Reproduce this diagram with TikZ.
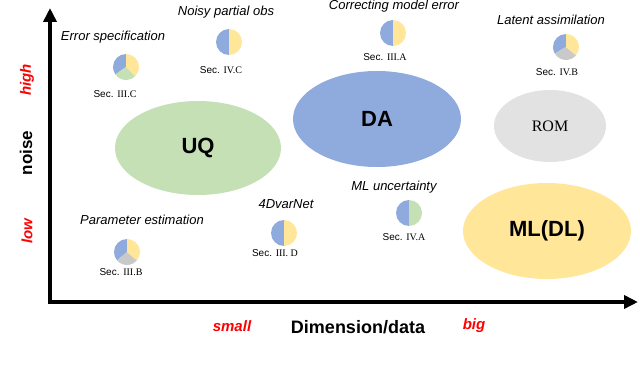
\documentclass[tikz,border=0pt]{standalone}
\usepackage{fontspec}
\setmainfont{Liberation Sans}
\newfontfamily\romfont{Liberation Serif}
\usetikzlibrary{shapes.geometric,arrows.meta}

\definecolor{daBlue}{HTML}{8FAADC}
\definecolor{uqGreen}{HTML}{C5E0B4}
\definecolor{mlYellow}{HTML}{FFE699}
\definecolor{romGray}{HTML}{E2E2E2}
\definecolor{sliceGray}{HTML}{C9C9C9}

\tikzset{
  axis/.style={line width=4pt, -{Triangle[length=14pt,width=13pt]}},
  blob/.style={ellipse, inner sep=0pt, font=\bfseries\fontsize{22}{26}\selectfont},
  topic/.style={font=\itshape\fontsize{13}{15}\selectfont},
  secref/.style={font=\fontsize{10}{12}\selectfont},
  scale label/.style={text=red, font=\bfseries\itshape\fontsize{15}{18}\selectfont}
}

% one slice of a small pie: colour, centre, from angle, to angle
\newcommand{\pieslice}[4]{\fill[#1] (#2) -- ++(#3:13pt) arc[start angle=#3, end angle=#4, radius=13pt] -- cycle;}

\begin{document}
\begin{tikzpicture}[x=1pt,y=1pt]
                \useasboundingbox (0,0) rectangle (640,367);

                % Axes
                \coordinate (origin) at (50,65);
                \coordinate (ytip) at (50,359);
                \coordinate (xtip) at (638,65);
                \draw[axis] (origin) -- (ytip);
                \draw[axis] ([xshift=-2pt]origin) -- (xtip);

                \node[rotate=90, font=\bfseries\fontsize{17}{20}\selectfont] (noise) at (26,214) {noise};
                \node[scale label, rotate=90] (high) at (27,287) {high};
                \node[scale label, rotate=90] (low) at (27,136) {low};
                \node[font=\bfseries\fontsize{18}{21}\selectfont] (dimension) at (358,40) {Dimension/data};
                \node[scale label] (small) at (232,41) {small};
                \node[scale label] (big) at (474,41) {big};

                % Fields
                \node[blob, fill=uqGreen, minimum width=166pt, minimum height=94pt] (uq) at (198,219) {UQ};
                \node[blob, fill=daBlue, minimum width=168pt, minimum height=96pt] (da) at (377,248) {DA};
                \node[blob, fill=romGray, minimum width=112pt, minimum height=72pt, font=\romfont\fontsize{16}{19}\selectfont] (rom) at (550,241) {ROM};
                \node[blob, fill=mlYellow, minimum width=168pt, minimum height=96pt] (ml) at (547,136) {ML(DL)};

                % Topics
                \coordinate (errspec) at (126,300);
                \pieslice{daBlue}{errspec}{90}{215}
                \pieslice{uqGreen}{errspec}{215}{315}
                \pieslice{mlYellow}{errspec}{-45}{90}
                \node[topic] (errspec text) at (113,330) {Error specification};
                \node[secref] (errspec sec) at (115,273) {Sec. \romfont III.C};

                \coordinate (noisy) at (229,325);
                \pieslice{daBlue}{noisy}{90}{270}
                \pieslice{mlYellow}{noisy}{-90}{90}
                \node[topic] (noisy text) at (226,355) {Noisy partial obs};
                \node[secref] (noisy sec) at (221,297) {Sec. \romfont IV.C};

                \coordinate (correct) at (393,334);
                \pieslice{daBlue}{correct}{90}{270}
                \pieslice{mlYellow}{correct}{-90}{90}
                \node[topic] (correct text) at (394,361) {Correcting model error};
                \node[secref] (correct sec) at (385,310) {Sec. \romfont III.A};

                \coordinate (latent) at (566,320);
                \pieslice{daBlue}{latent}{90}{210}
                \pieslice{sliceGray}{latent}{210}{320}
                \pieslice{mlYellow}{latent}{-40}{90}
                \node[topic] (latent text) at (551,347) {Latent assimilation};
                \node[secref] (latent sec) at (557,295) {Sec. \romfont IV.B};

                \coordinate (mlunc) at (409,154);
                \pieslice{daBlue}{mlunc}{90}{270}
                \pieslice{uqGreen}{mlunc}{-90}{90}
                \node[topic] (mlunc text) at (394,180) {ML uncertainty};
                \node[secref] (mlunc sec) at (404,130) {Sec. \romfont IV.A};

                \coordinate (fourdvar) at (284,134);
                \pieslice{daBlue}{fourdvar}{90}{270}
                \pieslice{mlYellow}{fourdvar}{-90}{90}
                \node[topic] (fourdvar text) at (286,163) {4DvarNet};
                \node[secref] (fourdvar sec) at (275,114) {Sec. \romfont III. D};

                \coordinate (param) at (127,115);
                \pieslice{daBlue}{param}{90}{220}
                \pieslice{sliceGray}{param}{220}{320}
                \pieslice{mlYellow}{param}{-40}{90}
                \node[topic] (param text) at (142,147) {Parameter estimation};
                \node[secref] (param sec) at (121,95) {Sec. \romfont III.B};
            \end{tikzpicture}
\end{document}
